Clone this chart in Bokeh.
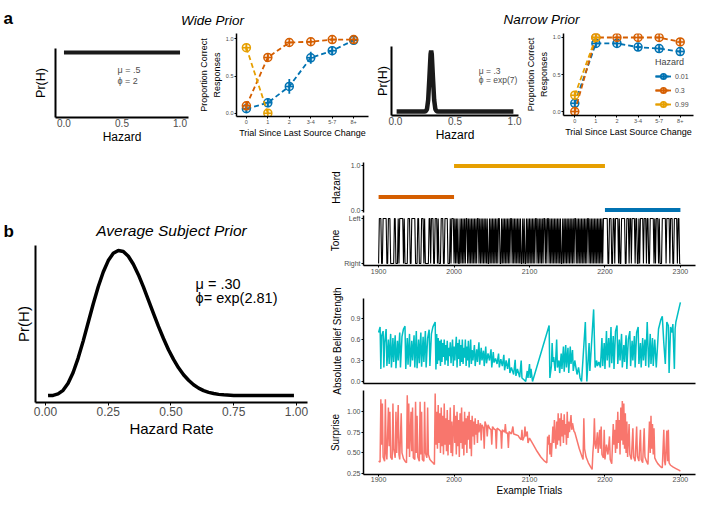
from bokeh.plotting import figure
from bokeh.layouts import column, row
from bokeh.models import Label, Range1d, FixedTicker, Legend, LegendItem, NumeralTickFormatter, LinearAxis
from bokeh.embed import file_html
from bokeh.resources import INLINE

FONT = "Liberation Sans"
BLUE, RED, YEL = "#0072B2", "#D55E00", "#E69F00"
TEAL, SALMON = "#00BFC4", "#F8766D"
GRAY = "#4D4D4D"

# ---------------- data ----------------
prior_ticks = [0.0, 0.5, 1.0]
wide_h = [0.0, 1.0]
wide_pr = [1.0, 1.0]
narrow_h = [0.01, 0.24, 0.255, 0.265, 0.275, 0.285, 0.295, 0.30, 0.305, 0.315, 0.325, 0.335, 0.345, 0.36, 0.99]
narrow_pr = [0.0, 0.0, 0.005, 0.04, 0.19, 0.55, 0.94, 1.0, 0.94, 0.55, 0.19, 0.04, 0.005, 0.0, 0.0]

avg_ticks = [0.0, 0.25, 0.5, 0.75, 1.0]
avg_h = [0.01, 0.03, 0.05, 0.07, 0.09, 0.11, 0.13, 0.15, 0.17, 0.19, 0.21, 0.23, 0.25, 0.27, 0.29,
         0.31, 0.33, 0.35, 0.37, 0.39, 0.41, 0.43, 0.45, 0.47, 0.49, 0.51, 0.53, 0.55, 0.57, 0.59,
         0.61, 0.63, 0.65, 0.67, 0.69, 0.71, 0.75, 0.80, 0.90, 0.99]
avg_pr = [0.000, 0.001, 0.011, 0.036, 0.084, 0.159, 0.258, 0.375, 0.503, 0.631, 0.750, 0.851, 0.930, 0.980, 1.000,
          0.993, 0.960, 0.905, 0.833, 0.749, 0.658, 0.567, 0.477, 0.393, 0.316, 0.249, 0.191, 0.143, 0.105, 0.074,
          0.051, 0.034, 0.022, 0.014, 0.008, 0.005, 0.001, 0.000, 0.000, 0.000]

trial_cats = ["0", "1", "2", "3-4", "5-7", "8+"]
prop_ticks = [0.0, 0.5, 1.0]
hazard_levels = ["0.01", "0.3", "0.99"]
hazard_colors = [BLUE, RED, YEL]

wide_prop = [[0.06, 0.14, 0.36, 0.745, 0.84, 0.98],
             [0.10, 0.75, 0.95, 0.96, 0.99, 0.99],
             [0.88, 0.0]]
wide_err = [[0.05, 0.06, 0.10, 0.08, 0.06, 0.03],
            [0.05, 0.04, 0.02, 0.02, 0.02, 0.02],
            [0.03, 0.01]]
narrow_prop = [[0.11, 0.92, 0.92, 0.87, 0.85, 0.81],
               [0.0, 1.0, 1.0, 1.0, 1.0, 0.94],
               [0.22, 1.0]]
narrow_err = [[0.05, 0.04, 0.04, 0.04, 0.03, 0.02],
              [0.02, 0.0, 0.0, 0.0, 0.0, 0.04],
              [0.03, 0.0]]

haz_start = [1900, 2000, 2200]
haz_end = [2000, 2200, 2300]
haz_value = [0.3, 0.99, 0.01]
haz_color = [RED, YEL, BLUE]

trial_ticks = [1900, 2000, 2100, 2200, 2300]
first_trial = 1900
tone_blocks = ["0111001111", "1001110000", "0110001011", "1110100001", "1100111110",
               "0011000111", "0100000110", "1110011101", "0001110011", "1100010111",
               "0101010010", "1010101101", "0101010101", "0110101010", "1010100101",
               "0101010101", "1001010101", "0101011010", "1010101010", "0101001010",
               "1010101011", "0101010101", "1010110101", "0101010101", "0100101010",
               "1010101010", "1101010101", "0101010110", "1010101010", "1010101011",
               "1111001110", "0110111101", "0011111001", "1101101111", "0110010111",
               "1011101100", "1111101011", "1010001111", "1011110111", "0011110110", "0"]
tone_labels = {0: "Right", 1: "Left"}

belief = [(1900,.70),(1902,.78),(1903,.18),(1904,.65),(1906,.72),(1907,.20),(1908,.55),(1910,.75),(1911,.22),(1913,.60),(1914,.25),(1916,.68),(1917,.20),(1919,.62),(1920,.28),(1922,.66),(1923,.19),(1925,.58),(1926,.30),(1928,.70),(1929,.20),(1931,.64),(1933,.75),(1935,.79),(1936,.18),(1938,.62),(1939,.24),(1941,.68),(1942,.21),(1944,.58),(1945,.30),(1947,.66),(1948,.20),(1950,.72),(1951,.19),(1953,.60),(1954,.26),(1956,.70),(1957,.21),(1959,.64),(1960,.28),(1962,.72),(1963,.20),(1965,.62),(1967,.74),(1968,.22),(1970,.68),(1972,.78),(1975,.85),(1976,.17),
          (1977,.68),(1978,.25),(1979,.62),(1980,.30),(1981,.58),(1982,.22),(1983,.60),(1984,.28),(1985,.55),(1986,.35),(1987,.60),(1988,.24),(1989,.52),(1990,.30),(1991,.58),(1992,.22),(1993,.48),(1994,.36),(1995,.56),(1996,.26),(1998,.60),(1999,.22),(2000,.50),(2001,.30),(2003,.64),(2004,.20),(2005,.55),(2006,.32),(2007,.60),(2008,.22),(2009,.52),(2010,.28),(2011,.60),(2012,.25),(2013,.48),(2014,.34),(2015,.60),(2016,.22),(2017,.50),(2018,.30),(2019,.58),(2020,.20),(2022,.60),(2023,.25),(2024,.45),(2025,.30),
          (2027,.52),(2028,.22),(2030,.46),(2031,.28),(2033,.56),(2034,.24),(2036,.48),(2037,.30),(2039,.44),(2040,.22),(2042,.50),(2043,.26),(2045,.40),(2047,.30),(2049,.46),(2050,.20),(2052,.42),(2053,.27),(2055,.33),(2057,.25),(2059,.40),(2060,.20),(2062,.32),(2064,.22),(2066,.38),(2067,.16),(2069,.30),(2071,.18),(2073,.33),(2074,.12),(2076,.20),(2079,.10),(2081,.31),(2082,.08),(2084,.18),(2087,.06),(2089,.30),(2090,.05),(2093,.02),(2095,.00),(2097,.15),(2098,.05),(2100,.25),(2101,.05),(2102,.18),(2104,.00),
          (2126,.80),(2127,.05),(2129,.22),(2130,.55),(2131,.28),(2132,.35),(2134,.15),(2136,.60),(2137,.20),(2139,.30),(2140,.12),(2142,.40),(2143,.18),(2145,.50),(2146,.14),(2148,.52),(2149,.20),(2151,.48),(2152,.12),(2154,.50),(2155,.25),(2157,.45),(2158,.15),(2160,.30),(2163,.10),(2165,.20),(2167,.05),(2169,.00),(2174,.85),(2176,.00),(2179,.55),(2180,.15),(2185,1.03),(2187,.20),
          (2189,.30),(2190,.22),(2192,.28),(2194,.20),(2196,.62),(2197,.22),(2199,.55),(2200,.18),(2202,.72),(2203,.30),(2205,.62),(2206,.20),(2208,.78),(2209,.26),(2211,.65),(2212,.18),(2214,.72),(2216,.80),(2217,.25),(2219,.60),(2220,.30),(2222,.68),(2223,.20),(2225,.52),(2226,.28),(2228,.66),(2229,.18),(2231,.60),(2233,.72),(2234,.22),(2236,.58),(2237,.30),(2239,.65),(2240,.20),(2242,.70),(2244,.78),(2245,.25),(2247,.55),(2248,.20),(2250,.62),(2251,.30),(2253,.60),(2254,.22),(2256,.85),(2258,.20),(2260,.68),(2261,.25),(2263,.62),(2264,.22),(2266,.60),(2268,.20),(2271,.75),(2274,.88),(2276,.93),(2278,.55),(2280,.25),(2282,.85),(2284,.80),(2285,.12),(2287,.78),(2289,.70),(2290,.82),(2292,.18),(2293,.75),(2294,.85),(2300,1.13)]
belief_ticks = [0.0, 0.3, 0.6, 0.9]

surprise = [(1900,.40),(1902,.39),(1903,1.15),(1904,.60),(1905,1.10),(1906,.45),(1908,.40),(1909,1.15),(1910,.50),(1911,.42),(1913,1.05),(1914,.58),(1915,1.00),(1916,.45),(1918,.42),(1919,1.10),(1920,.55),(1922,.44),(1923,1.00),(1924,.50),(1926,1.08),(1927,.48),(1928,.42),(1930,.98),(1931,.50),(1933,.43),(1935,.40),(1937,.38),(1938,1.20),(1939,.55),(1940,1.10),(1941,.45),(1943,1.00),(1944,.52),(1945,1.05),(1946,.44),(1948,.42),(1949,1.12),(1950,.50),(1951,.95),(1952,.45),(1954,.40),(1955,1.12),(1956,.48),(1957,1.00),(1958,.42),(1960,.40),(1961,1.12),(1962,.50),(1964,.44),(1965,1.05),(1966,.48),(1968,.42),(1970,.40),(1972,.38),(1974,.36),(1975,1.22),(1976,.60),(1977,1.00),
            (1978,.55),(1979,1.08),(1980,.62),(1981,.98),(1982,.50),(1983,1.05),(1984,.58),(1985,.95),(1986,.48),(1987,1.10),(1988,.60),(1989,.92),(1990,.52),(1991,1.02),(1992,.47),(1993,.90),(1994,.60),(1995,1.05),(1996,.50),(1997,.88),(1998,.46),(2000,1.08),(2001,.62),(2002,.95),(2003,.48),(2004,1.00),(2005,.58),(2006,.90),(2007,.45),(2008,.98),(2009,.62),(2010,1.05),(2011,.55),(2012,.88),(2013,.47),(2014,1.00),(2015,.60),(2016,.92),(2017,.50),(2018,.95),(2019,.66),(2020,1.00),(2021,.55),(2022,.90),(2023,.46),(2024,.95),(2025,.70),(2026,.88),
            (2027,.60),(2028,.92),(2029,.72),(2030,.85),(2031,.62),(2032,.90),(2033,.75),(2035,.86),(2036,.65),(2037,.84),(2039,.80),(2040,.55),(2041,.88),(2043,.82),(2044,.70),(2045,.84),(2047,.80),(2049,.78),(2050,.60),(2051,.82),(2053,.79),(2055,.78),(2056,.55),(2057,.80),(2060,.78),(2062,.76),(2063,.55),(2064,.78),(2067,.75),(2068,.85),(2069,.74),(2071,.74),(2072,.56),(2073,.76),(2076,.73),(2078,.82),(2079,.73),(2082,.72),(2085,.71),(2087,.68),(2089,.66),(2090,.78),(2091,.65),(2093,.70),(2094,.82),(2095,.70),(2097,.76),(2098,.62),
            (2100,.68),(2105,.60),(2110,.52),(2115,.45),(2120,.40),(2123,.38),(2124,.70),(2125,.60),(2126,.72),(2127,.48),(2128,.62),(2129,.45),(2131,.82),(2132,.62),(2133,.90),(2134,.70),(2135,.55),(2136,.88),(2137,.60),(2138,.98),(2139,.65),(2140,.92),(2141,.58),(2142,.98),(2143,.70),(2144,.90),(2145,.62),(2146,.97),(2147,.72),(2148,.85),(2149,.60),(2150,1.00),(2151,.68),(2152,.88),(2153,.75),(2155,.96),(2156,.78),(2157,.86),(2159,.76),(2160,.75),
            (2163,.65),(2166,.55),(2169,.47),(2171,.42),(2172,.92),(2173,.55),(2175,.45),(2178,.38),(2181,.33),(2183,.30),
            (2184,.50),(2185,.62),(2186,.92),(2187,.60),(2188,.55),(2190,.75),(2191,.50),(2193,.78),(2194,.55),(2195,.82),(2196,.48),(2198,.44),(2199,.78),(2200,.42),(2202,.60),(2204,.48),(2206,.70),(2207,.42),(2209,.37),(2211,.85),(2212,.60),(2213,.78),(2214,.50),(2215,.90),(2216,.55),(2217,1.00),(2218,.62),(2219,.90),(2220,.48),(2221,1.05),(2222,.65),(2223,1.13),(2224,.60),(2225,1.10),(2226,.55),(2227,.98),(2228,.50),(2229,.88),(2230,.45),(2232,.85),(2233,.48),(2235,.42),(2237,.80),(2238,.45),(2240,.40),(2242,.82),(2243,.46),(2245,.40),(2247,.78),(2248,.42),(2250,.38),(2252,.80),(2253,.45),(2255,.40),(2257,.36),(2259,.88),(2260,.50),(2261,.95),(2262,.55),(2263,.85),(2264,.48),(2265,.80),(2266,.44),(2268,.40),(2270,.37),(2272,.35),(2274,.33),(2276,.32),(2278,.78),(2279,.40),(2280,.35),(2282,.77),(2283,.40),(2284,.78),(2285,.38),(2287,.35),(2290,.33),(2294,.31),(2298,.29),(2300,.28)]
surprise_ticks = [0.25, 0.5, 0.75, 1.0]


# ---------------- helpers ----------------
def fig(w, h, xr, yr, mb, **kw):
    p = figure(width=w, height=h, x_range=Range1d(*xr), y_range=Range1d(*yr),
               output_backend="svg", toolbar_location=None,
               min_border_left=mb[0], min_border_right=mb[1],
               min_border_top=mb[2], min_border_bottom=mb[3], **kw)
    p.xgrid.visible = False
    p.ygrid.visible = False
    p.outline_line_color = None
    p.background_fill_color = None
    p.border_fill_color = None
    return p


def blank(w, h):
    p = figure(width=w, height=h, x_range=Range1d(0, w), y_range=Range1d(0, h),
               output_backend="svg", toolbar_location=None, min_border=0)
    p.axis.visible = False
    p.grid.visible = False
    p.outline_line_color = None
    p.background_fill_color = None
    p.border_fill_color = None
    return p


def style(ax, lw=1.5, tick_size="7px", label_size="10px", tick_out=2, standoff=1,
          label_standoff=1, ticks=None, fmt=None):
    ax.axis_line_width = lw
    ax.axis_line_color = "black"
    ax.major_tick_out = tick_out
    ax.major_tick_in = 0
    ax.major_tick_line_color = "black" if tick_out else None
    ax.major_tick_line_width = 1
    ax.minor_tick_line_color = None
    ax.major_label_text_font = FONT
    ax.major_label_text_font_size = tick_size
    ax.major_label_text_color = GRAY
    ax.major_label_standoff = standoff
    ax.axis_label_text_font = FONT
    ax.axis_label_text_font_size = label_size
    ax.axis_label_text_font_style = "normal"
    ax.axis_label_text_color = "black"
    ax.axis_label_standoff = label_standoff
    if ticks is not None:
        ax.ticker = FixedTicker(ticks=ticks)
    if fmt is not None:
        ax.formatter = NumeralTickFormatter(format=fmt)


def text(p, x, y, s, size, style_="normal", color="black", align="left"):
    p.add_layout(Label(x=x, y=y, text=s, text_font=FONT, text_font_size=size,
                       text_font_style=style_, text_color=color, text_align=align,
                       text_baseline="alphabetic"))


# ---------------- header a ----------------
hA = blank(708, 32)
text(hA, 3, 14.3, "a", "17px", "bold")
text(hA, 212, 12, "Wide Prior", "13.5px", "italic", align="center")
text(hA, 541, 13.3, "Narrow Prior", "13.5px", "italic", align="center")

# ---------------- A1: wide prior ----------------
pA1 = fig(195, 116, (-0.073, 1.073), (-0.1017, 1.0678), (55, 7, 16, 31))
pA1.line(wide_h, wide_pr, line_width=4, line_color="#1a1a1a")
pA1.xaxis.axis_label = "Hazard"
pA1.yaxis.axis_label = "Pr(H)"
style(pA1.xaxis, lw=2, tick_size="10px", label_size="12px", tick_out=0, standoff=1,
      label_standoff=0, ticks=prior_ticks, fmt="0.0")
style(pA1.yaxis, lw=2, label_size="12.5px", tick_out=0, standoff=0, label_standoff=8, ticks=[])
text(pA1, 0.461, 0.71, "μ = .5", "9px", color=GRAY)
text(pA1, 0.461, 0.52, "ϕ = 2", "9px", color=GRAY)


# ---------------- behaviour plots ----------------
def behaviour(w, xr, yr, mb, props, errs, with_legend=False):
    p = fig(w, 116, xr, yr, mb)
    items = []
    for lvl, vals, err, col in zip(hazard_levels, props, errs, hazard_colors):
        xs = list(range(len(vals)))
        lo = [v - e for v, e in zip(vals, err)]
        hi = [v + e for v, e in zip(vals, err)]
        r1 = p.line(xs, vals, line_color=col, line_width=1.8, line_dash="5 3")
        r2 = p.segment(x0=xs, y0=lo, x1=xs, y1=hi, line_color=col, line_width=1.8)
        r3 = p.scatter(xs, vals, marker="circle_cross", size=8, line_color=col,
                       line_width=1.5, fill_color=col, fill_alpha=0.15)
        items.append(LegendItem(label=lvl, renderers=[r1, r2, r3]))
    p.xaxis.axis_label = "Trial Since Last Source Change"
    p.yaxis.axis_label = "Responses"
    style(p.xaxis, lw=1.5, tick_size="5.5px", label_size="9px", tick_out=2, standoff=1,
          label_standoff=1, ticks=list(range(len(trial_cats))))
    p.xaxis.major_label_overrides = {i: c for i, c in enumerate(trial_cats)}
    style(p.yaxis, lw=1.5, tick_size="5.5px", label_size="9px", tick_out=2, standoff=1,
          label_standoff=1, ticks=prop_ticks, fmt="0.0")
    outer = LinearAxis(axis_label="Proportion Correct")
    style(outer, lw=0, label_size="9px", tick_out=0, standoff=0, label_standoff=0, ticks=[])
    outer.axis_line_color = None
    p.add_layout(outer, "left")
    if with_legend:
        lg = Legend(items=items, location=(92, 4), title="Hazard",
                    title_text_font=FONT, title_text_font_size="9px",
                    title_text_font_style="normal", title_standoff=2,
                    label_text_font=FONT, label_text_font_size="7px", label_text_color=GRAY,
                    glyph_width=16, glyph_height=14, label_height=14, label_standoff=4,
                    spacing=0, padding=0, margin=0, border_line_color=None,
                    background_fill_alpha=0)
        p.add_layout(lg)
    return p


pA2 = behaviour(177, (-0.46, 5.69), (-0.044, 1.071), (40, 4, 1, 32), wide_prop, wide_err)

# ---------------- A3: narrow prior ----------------
pA3 = fig(150, 116, (-0.033, 1.033), (-0.066, 1.066), (17, 4, 14, 33))
pA3.line(narrow_h, narrow_pr, line_width=4.5, line_color="#1a1a1a")
pA3.xaxis.axis_label = "Hazard"
pA3.yaxis.axis_label = "Pr(H)"
style(pA3.xaxis, lw=2, tick_size="10px", label_size="12px", tick_out=0, standoff=1,
      label_standoff=0, ticks=prior_ticks, fmt="0.0")
style(pA3.yaxis, lw=2, label_size="12.5px", tick_out=0, standoff=0, label_standoff=2, ticks=[])
text(pA3, 0.70, 0.67, "μ = .3", "8.5px", color=GRAY)
text(pA3, 0.70, 0.51, "ϕ = exp(7)", "8.5px", color=GRAY)

pA4 = behaviour(178, (-0.535, 5.63), (-0.054, 1.054), (36, 7, 1, 33), narrow_prop, narrow_err,
                with_legend=True)

# ---------------- b: header + average prior ----------------
hB = blank(322, 97)
text(hB, 3, 14.5, "b", "17px", "bold")
text(hB, 171, 15, "Average Subject Prior", "15.5px", "italic", align="center")

pB = fig(322, 253, (-0.040, 1.044), (-0.048, 1.034), (35, 15, 0, 96))
pB.line(avg_h, avg_pr, line_width=3.5, line_color="black")
pB.xaxis.axis_label = "Hazard Rate"
pB.yaxis.axis_label = "Pr(H)"
style(pB.xaxis, lw=2, tick_size="12px", label_size="15px", tick_out=3, standoff=1,
      label_standoff=1, ticks=avg_ticks, fmt="0.00")
style(pB.yaxis, lw=2, label_size="15px", tick_out=0, standoff=0, label_standoff=4, ticks=[])
text(pB, 0.598, 0.771, "μ = .30", "14.5px")
text(pB, 0.598, 0.671, "ϕ= exp(2.81)", "14.5px")

# ---------------- right column ----------------
XR = (1880, 2320)
pH = fig(378, 66, XR, (-0.044, 1.067), (41, 5, 14, 2))
pH.segment(x0=haz_start, y0=haz_value, x1=haz_end, y1=haz_value, line_color=haz_color, line_width=4)
pH.xaxis.visible = False
pH.yaxis.axis_label = "Hazard"
style(pH.yaxis, lw=1.5, tick_size="7px", label_size="10px", tick_out=2, standoff=1,
      label_standoff=6, ticks=[0.0, 1.0], fmt="0.0")

tone = [int(c) for c in "".join(tone_blocks)]
tone_x = [first_trial + i for i in range(len(tone))]
pT = fig(378, 62, XR, (-0.044, 1.067), (41, 5, 1, 11))
pT.line(tone_x, tone, line_color="black", line_width=1.1)
pT.yaxis.axis_label = "Tone"
style(pT.xaxis, lw=1.5, tick_size="7px", tick_out=2, standoff=1, ticks=trial_ticks)
style(pT.yaxis, lw=1.5, tick_size="7px", label_size="10px", tick_out=2, standoff=1,
      label_standoff=0, ticks=[0, 1])
pT.yaxis.major_label_overrides = tone_labels

pBel = fig(378, 124, XR, (-0.029, 1.186), (41, 5, 22, 17))
bx, by = zip(*belief)
pBel.line(list(bx), list(by), line_color=TEAL, line_width=1.5)
pBel.yaxis.axis_label = "Absolute Belief Strength"
style(pBel.xaxis, lw=1.5, tick_out=0, ticks=[])
style(pBel.yaxis, lw=1.5, tick_size="7px", label_size="10px", tick_out=2, standoff=1,
      label_standoff=5, ticks=belief_ticks, fmt="0.0")

pS = fig(378, 110, XR, (0.238, 1.257), (41, 5, 2, 22), margin=(-12, 0, 0, 0))
sx, sy = zip(*surprise)
pS.line(list(sx), list(sy), line_color=SALMON, line_width=1.5)
pS.xaxis.axis_label = "Example Trials"
pS.yaxis.axis_label = "Surprise"
style(pS.xaxis, lw=1.5, tick_size="7px", label_size="10px", tick_out=2, standoff=0,
      label_standoff=0, ticks=trial_ticks)
style(pS.yaxis, lw=1.5, tick_size="7px", label_size="10px", tick_out=2, standoff=1,
      label_standoff=3, ticks=surprise_ticks, fmt="0.00")

layout = column(
    hA,
    row(column(pA1), column(pA2), column(pA3), column(pA4)),
    row(column(column(hB), column(pB)), column(pH, pT, pBel, pS)),
)

open("out.html", "w").write(file_html(layout, INLINE))
